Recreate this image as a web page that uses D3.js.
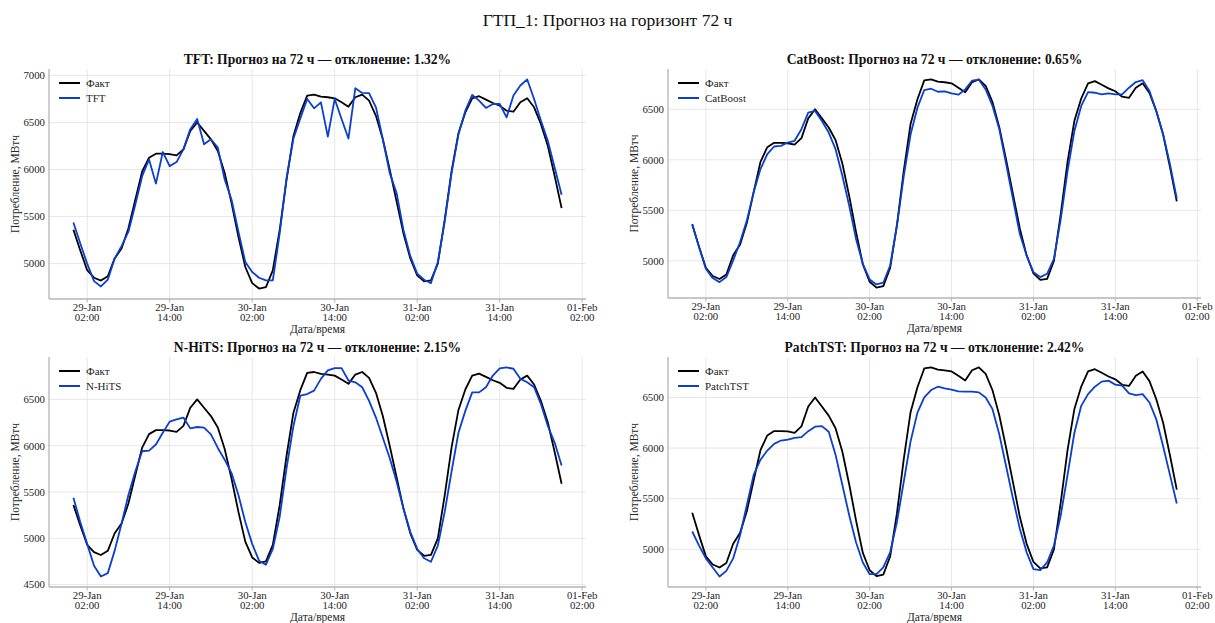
<!DOCTYPE html>
<html>
<head>
<meta charset="utf-8">
<script src="https://cdn.jsdelivr.net/npm/d3@7"></script>
<style>
  body { margin: 0; background: #fff; }
  svg { display: block; font-family: "Liberation Serif", "DejaVu Serif", serif; }
  .grid line { stroke: #e4e4e4; stroke-width: 0.9; }
  .spine { stroke: #b4b4b4; stroke-width: 1.3; }
  .tick-mark { stroke: #b4b4b4; stroke-width: 1; }
  .tick-label { font-size: 10.8px; fill: #262626; }
  .axis-title { font-size: 11.5px; fill: #262626; }
  .panel-title { font-size: 13.6px; font-weight: bold; fill: #111; }
  .legend text { font-size: 11px; fill: #262626; }
  .series { fill: none; stroke-width: 1.8; stroke-linejoin: round; }
</style>
</head>
<body>
<svg id="chart" width="1215" height="623"></svg>
<script>
// hourly series, 29 Jan 00:00 .. 31 Jan 23:00
const START = Date.UTC(2024, 0, 29, 0);

const fact = [
  5360, 5140, 4930, 4850, 4820, 4865, 5055, 5160, 5375, 5680, 5980, 6125,
  6168, 6168, 6164, 6150, 6214, 6410, 6500, 6410, 6320, 6196, 5964, 5643,
  5286, 4964, 4793, 4735, 4750, 4929, 5357, 5893, 6357, 6600, 6786, 6796,
  6775, 6768, 6757, 6714, 6668, 6768, 6796, 6732, 6571, 6321, 6000, 5661,
  5321, 5054, 4875, 4811, 4821, 5000, 5464, 5982, 6386, 6607, 6757, 6779,
  6743, 6707, 6679, 6625, 6614, 6714, 6757, 6661, 6482, 6250, 5929, 5589
];

const tft = [
  5436, 5214, 5000, 4814, 4757, 4829, 5054, 5186, 5339, 5625, 5929, 6107,
  5850, 6186, 6036, 6079, 6214, 6429, 6536, 6268, 6321, 6232, 5893, 5679,
  5339, 5018, 4911, 4850, 4821, 4821, 5321, 5911, 6329, 6543, 6750, 6650,
  6714, 6350, 6750, 6536, 6329, 6864, 6814, 6811, 6661, 6321, 5964, 5750,
  5357, 5079, 4893, 4829, 4793, 5018, 5446, 5964, 6375, 6625, 6793, 6732,
  6654, 6696, 6696, 6554, 6786, 6893, 6957, 6750, 6518, 6304, 6018, 5732
];

const catboost = [
  5365, 5135, 4921, 4829, 4789, 4839, 5003, 5184, 5398, 5678, 5908, 6056,
  6132, 6138, 6171, 6188, 6303, 6467, 6484, 6385, 6270, 6105, 5842, 5546,
  5217, 4970, 4816, 4766, 4783, 4954, 5349, 5842, 6253, 6516, 6691, 6704,
  6674, 6678, 6658, 6645, 6697, 6783, 6793, 6697, 6533, 6303, 5957, 5612,
  5266, 5053, 4888, 4839, 4872, 5020, 5414, 5891, 6286, 6533, 6671, 6664,
  6648, 6658, 6648, 6648, 6714, 6770, 6789, 6681, 6484, 6253, 5957, 5618
];

const nhits = [
  5438, 5176, 4940, 4704, 4587, 4624, 4867, 5158, 5467, 5722, 5940, 5947,
  6013, 6140, 6260, 6285, 6304, 6187, 6202, 6195, 6122, 5976, 5849, 5704,
  5467, 5176, 4940, 4758, 4715, 4885, 5231, 5758, 6213, 6540, 6558, 6595,
  6722, 6813, 6838, 6838, 6704, 6685, 6631, 6485, 6304, 6085, 5867, 5613,
  5322, 5067, 4885, 4784, 4747, 4922, 5285, 5722, 6140, 6376, 6576, 6576,
  6631, 6758, 6834, 6845, 6831, 6722, 6685, 6631, 6449, 6213, 6031, 5787
];

const patchtst = [
  5176, 5037, 4910, 4821, 4731, 4787, 4910, 5136, 5436, 5735, 5885, 5975,
  6041, 6074, 6084, 6101, 6108, 6167, 6211, 6217, 6161, 5935, 5635, 5336,
  5070, 4870, 4754, 4754, 4821, 4970, 5270, 5669, 6068, 6350, 6500, 6573,
  6606, 6590, 6576, 6560, 6557, 6557, 6550, 6500, 6384, 6134, 5818, 5502,
  5203, 4970, 4804, 4794, 4870, 5037, 5336, 5735, 6151, 6417, 6533, 6606,
  6656, 6666, 6626, 6616, 6540, 6523, 6533, 6450, 6284, 6018, 5735, 5452
];

// tick positions, hours after START
const xTickHours = [2, 14, 26, 38, 50, 62, 74];
const yTicksTFT = [5000, 5500, 6000, 6500, 7000];
const yTicksCatBoost = [5000, 5500, 6000, 6500];
const yTicksNHiTS = [4500, 5000, 5500, 6000, 6500];
const yTicksPatchTST = [5000, 5500, 6000, 6500];

const deviations = ["1.32%", "0.65%", "2.15%", "2.42%"];

const FIG_TITLE = "ГТП_1: Прогноз на горизонт 72 ч";
const FACT_LABEL = "Факт";
const COLOR_FACT = "#000000";
const COLOR_MODEL = "#0a3fd0";

const panels = [
  {name: "TFT",      values: tft,      yTicks: yTicksTFT,      dev: deviations[0], box: {x: 49,  y: 69,  w: 537, h: 230}},
  {name: "CatBoost", values: catboost, yTicks: yTicksCatBoost, dev: deviations[1], box: {x: 668, y: 69,  w: 533, h: 229}},
  {name: "N-HiTS",   values: nhits,    yTicks: yTicksNHiTS,    dev: deviations[2], box: {x: 49,  y: 357, w: 537, h: 230}},
  {name: "PatchTST", values: patchtst, yTicks: yTicksPatchTST, dev: deviations[3], box: {x: 668, y: 357, w: 533, h: 230}}
];

const svg = d3.select("#chart");
svg.append("rect").attr("width", 1215).attr("height", 623).attr("fill", "#fff");

svg.append("text")
  .attr("x", 607.5).attr("y", 26)
  .attr("text-anchor", "middle")
  .style("font-size", "17.5px")
  .style("fill", "#111")
  .text(FIG_TITLE);

const toDate = h => new Date(START + h * 3600 * 1000);
const fmtDay = d3.utcFormat("%d-%b");
const fmtTime = d3.utcFormat("%H:%M");

function drawPanel(p) {
  const {x, y, w, h} = p.box;
  const g = svg.append("g").attr("transform", `translate(${x},${y})`);
  const n = fact.length;

  // matplotlib-like 5% margins
  const padX = (n - 1) * 0.05;
  const xScale = d3.scaleUtc()
    .domain([toDate(-padX), toDate(n - 1 + padX)])
    .range([0, w]);

  const all = fact.concat(p.values);
  const lo = d3.min(all), hi = d3.max(all);
  const padY = (hi - lo) * 0.05;
  const yScale = d3.scaleLinear()
    .domain([lo - padY, hi + padY])
    .range([h, 0]);

  const xTicks = xTickHours.map(toDate);

  // grid
  const grid = g.append("g").attr("class", "grid");
  grid.selectAll(".gx").data(xTicks).enter().append("line")
    .attr("x1", d => xScale(d)).attr("x2", d => xScale(d))
    .attr("y1", 0).attr("y2", h);
  grid.selectAll(".gy").data(p.yTicks).enter().append("line")
    .attr("x1", 0).attr("x2", w)
    .attr("y1", d => yScale(d)).attr("y2", d => yScale(d));

  // spines
  g.append("line").attr("class", "spine").attr("x1", 0).attr("x2", 0).attr("y1", 0).attr("y2", h);
  g.append("line").attr("class", "spine").attr("x1", 0).attr("x2", w).attr("y1", h).attr("y2", h);

  // x ticks
  const xt = g.selectAll(".xt").data(xTicks).enter().append("g")
    .attr("transform", d => `translate(${xScale(d)},${h})`);
  xt.append("line").attr("class", "tick-mark").attr("y1", 0).attr("y2", 3.5);
  xt.append("text").attr("class", "tick-label").attr("text-anchor", "middle")
    .attr("y", 11.5).text(d => fmtDay(d));
  xt.append("text").attr("class", "tick-label").attr("text-anchor", "middle")
    .attr("y", 21.5).text(d => fmtTime(d));

  // y ticks
  g.selectAll(".yt").data(p.yTicks).enter().append("text")
    .attr("class", "tick-label")
    .attr("text-anchor", "end")
    .attr("x", -4)
    .attr("y", d => yScale(d) + 3.8)
    .text(d => d);

  // axis titles
  g.append("text").attr("class", "axis-title").attr("text-anchor", "middle")
    .attr("x", w / 2).attr("y", h + 33.5).text("Дата/время");
  g.append("text").attr("class", "axis-title").attr("text-anchor", "middle")
    .attr("transform", `translate(-30,${h / 2}) rotate(-90)`)
    .text("Потребление, МВтч");

  g.append("text").attr("class", "panel-title").attr("text-anchor", "middle")
    .attr("x", w / 2).attr("y", -5)
    .text(`${p.name}: Прогноз на 72 ч — отклонение: ${p.dev}`);

  // series
  const line = d3.line()
    .x((d, i) => xScale(toDate(i)))
    .y(d => yScale(d));
  g.append("path").attr("class", "series").attr("stroke", COLOR_FACT).attr("d", line(fact));
  g.append("path").attr("class", "series").attr("stroke", COLOR_MODEL).attr("d", line(p.values));

  // legend
  const items = [{label: FACT_LABEL, color: COLOR_FACT}, {label: p.name, color: COLOR_MODEL}];
  const lg = g.append("g").attr("class", "legend");
  const row = lg.selectAll("g").data(items).enter().append("g")
    .attr("transform", (d, i) => `translate(10,${14 + i * 15})`);
  row.append("line").attr("x1", 0).attr("x2", 21).attr("y1", 0).attr("y2", 0)
    .attr("stroke", d => d.color).attr("stroke-width", 2);
  row.append("text").attr("x", 27).attr("y", 3.7).text(d => d.label);
}

panels.forEach(drawPanel);
</script>
</body>
</html>
